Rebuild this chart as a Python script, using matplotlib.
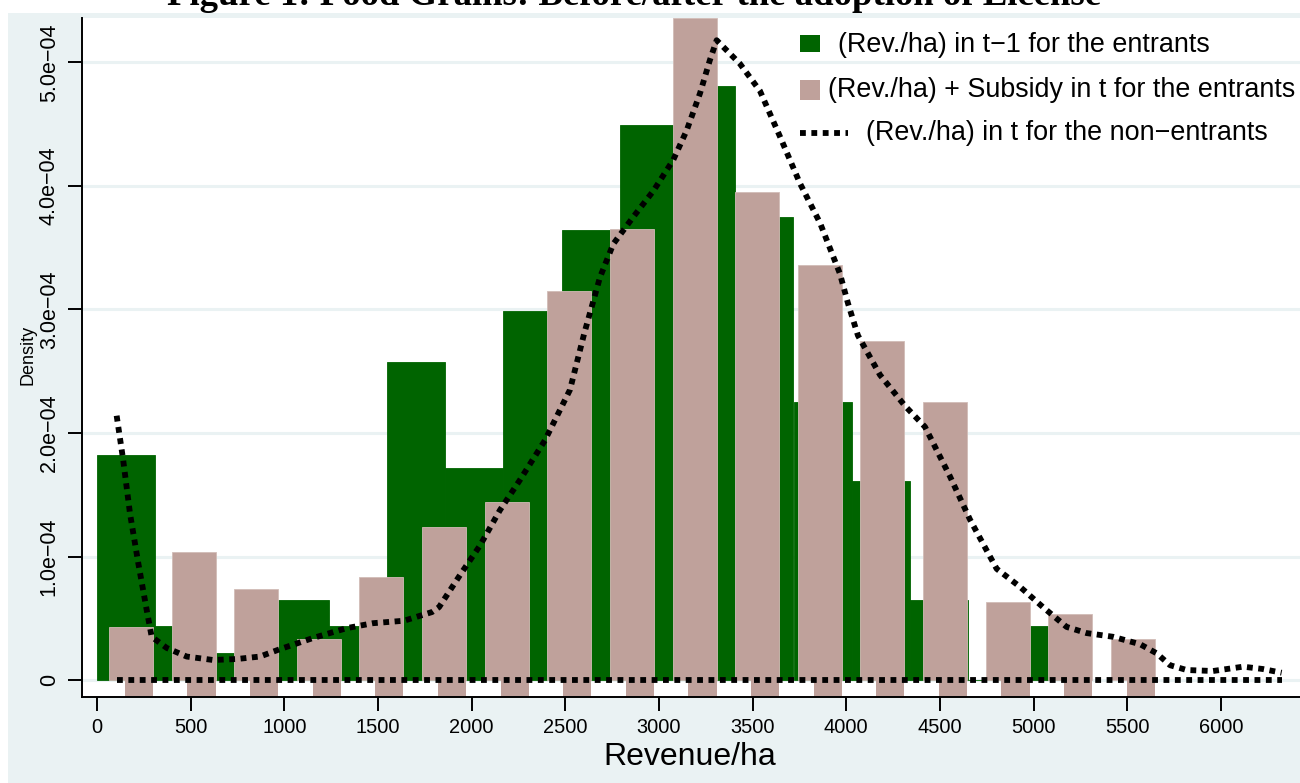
import matplotlib.pyplot as plt
from matplotlib.lines import Line2D
from matplotlib.patches import Rectangle

# Green histogram: revenue/ha in t-1 for the entrants (left bin edges, density x 1e-4)
green_edges = [0, 310, 620, 930, 1240, 1550, 1860, 2170, 2480, 2790, 3100,
               3410, 3720, 4030, 4340, 4650, 4960]
green_density = [1.82, 0.437, 0.22, 0.647, 0.437, 2.573, 1.715, 2.99, 3.64,
                 4.49, 4.806, 3.746, 2.25, 1.61, 0.647, 0.0, 0.437]
green_width = 308

# Pink histogram: revenue/ha + subsidy in t for the entrants (bin centres)
pink_centers = [181.5, 516, 850, 1184, 1518, 1853, 2187, 2521, 2856, 3190,
                3524, 3859, 4193, 4527, 4861, 5196, 5530]
pink_density = [0.43, 1.035, 0.733, 0.33, 0.836, 1.238, 1.44, 3.147, 3.65,
                5.36, 3.955, 3.358, 2.743, 2.25, 0.634, 0.534, 0.332]
pink_width = 235

# Kernel density for the non-entrants
kde_x = [105, 140, 176, 220, 265, 292, 372, 479, 620, 746, 870, 977, 1153,
         1333, 1473, 1639, 1788, 1826, 1938, 2045, 2151, 2258, 2391, 2525,
         2600, 2685, 2756, 2863, 2970, 3076, 3148, 3219, 3272, 3308, 3432,
         3539, 3646, 3753, 3860, 3966, 4009, 4062, 4180, 4313, 4420, 4553,
         4660, 4767, 4803, 4927, 5050, 5176, 5283, 5424, 5568, 5657, 5728,
         5817, 5958, 6118, 6224, 6324]
kde_y = [2.14, 1.78, 1.35, 0.95, 0.57, 0.35, 0.26, 0.19, 0.162, 0.17, 0.19,
         0.25, 0.34, 0.42, 0.46, 0.48, 0.55, 0.59, 0.85, 1.09, 1.375, 1.62,
         1.94, 2.35, 2.8, 3.26, 3.53, 3.75, 3.96, 4.21, 4.45, 4.75, 5.02,
         5.18, 4.99, 4.77, 4.40, 4.02, 3.70, 3.29, 3.05, 2.79, 2.47, 2.22,
         2.05, 1.65, 1.3, 1.0, 0.90, 0.755, 0.59, 0.43, 0.38, 0.35, 0.29,
         0.216, 0.12, 0.081, 0.073, 0.108, 0.089, 0.059]

yticks = [0, 1, 2, 3, 4, 5]
ytick_labels = ["0", "1.0e\u221204", "2.0e\u221204", "3.0e\u221204",
                "4.0e\u221204", "5.0e\u221204"]
xticks = [0, 500, 1000, 1500, 2000, 2500, 3000, 3500, 4000, 4500, 5000,
          5500, 6000]

BG = "#eaf2f3"
GREEN = "#006400"
PINK = "#bfa19b"
W, H = 1300, 783

plt.rcParams["font.family"] = ["Liberation Sans", "DejaVu Sans"]

fig = plt.figure(figsize=(W / 100, H / 100), dpi=100, facecolor="white")


def fx(x):
    return x / W


def fy(y):
    return 1 - y / H


# graph region background (white strip above holds the caption)
fig.patches.append(Rectangle((fx(8), 0), 1 - fx(8), fy(12.6),
                             transform=fig.transFigure, facecolor=BG,
                             edgecolor="none", zorder=-10))
fig.text(fx(634), fy(4.6), "Figure 1: Food Grains: Before/after the adoption of License",
         family="Liberation Serif", fontweight="bold", fontsize=26.5,
         ha="center", va="baseline")

ax = fig.add_axes([fx(82), fy(697), 1 - fx(82), (697 - 18) / H])
ax.set_facecolor("white")
ymin, ymax = -0.1375, 5.36
ax.set_xlim(-80, 6422)
ax.set_ylim(ymin, ymax)

for t in yticks:
    ax.axhline(t, color=BG, lw=2.2, zorder=0)

ax.bar(green_edges, green_density, width=green_width, align="edge",
       color=GREEN, edgecolor=GREEN, linewidth=0.6, zorder=1)
ax.bar(pink_centers, pink_density, width=pink_width, color=PINK,
       edgecolor="#d2bcb7", linewidth=0.6, zorder=2)
# pink bars run on below the zero line over the right part of each bin
low_left = [c - pink_width / 2 + 0.36 * pink_width for c in pink_centers]
ax.bar(low_left, [-ymin] * len(pink_centers), bottom=ymin,
       width=0.64 * pink_width, align="edge", color=PINK, linewidth=0, zorder=2)

dots = dict(color="black", lw=4.2, ls=(0, (1.0, 0.95)), dash_capstyle="butt",
            zorder=3)
ax.plot(kde_x, kde_y, **dots)
ax.plot([kde_x[0], kde_x[-1]], [0, 0], **dots)

for s in ["top", "right"]:
    ax.spines[s].set_visible(False)
for s in ["left", "bottom"]:
    ax.spines[s].set_linewidth(1.4)

ax.set_yticks(yticks)
ax.set_yticklabels(ytick_labels, rotation=90, va="center", fontsize=15.5)
ax.set_xticks(xticks)
ax.set_xticklabels([str(v) for v in xticks], fontsize=14.4)
ax.tick_params(length=10, width=1.4, pad=5)
ax.tick_params(axis="y", pad=6)

fig.text(fx(690), fy(757), "Revenue/ha", fontsize=23, ha="center", va="center")
fig.text(fx(28), fy(355), "Density", fontsize=13, rotation=90,
         ha="center", va="center")

# key
fig.patches.append(Rectangle((fx(800), fy(52)), fx(20), 17 / H,
                             transform=fig.transFigure, facecolor=GREEN,
                             edgecolor="none", zorder=5))
fig.patches.append(Rectangle((fx(800), fy(100)), fx(20), 20 / H,
                             transform=fig.transFigure, facecolor=PINK,
                             edgecolor="none", zorder=5))
fig.lines.append(Line2D([fx(800), fx(848)], [fy(133), fy(133)],
                        transform=fig.transFigure, **dots))
fig.text(fx(838), fy(45), "(Rev./ha) in t\u22121 for the entrants",
         fontsize=19.4, va="center")
fig.text(fx(828), fy(90), "(Rev./ha) + Subsidy in t for the entrants",
         fontsize=19.4, va="center")
fig.text(fx(866), fy(133), "(Rev./ha) in t for the non\u2212entrants",
         fontsize=19.4, va="center")

fig.savefig("out.png", dpi=100, facecolor=fig.get_facecolor())
